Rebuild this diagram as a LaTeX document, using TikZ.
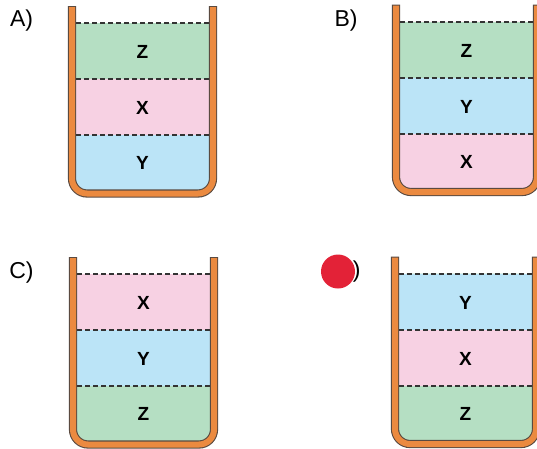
\documentclass[tikz,border=0pt]{standalone}
\usepackage{fontspec}
\setmainfont{Liberation Sans}
\definecolor{lgreen}{HTML}{B5DFC3}
\definecolor{lpink}{HTML}{F7D1E3}
\definecolor{lblue}{HTML}{BBE4F7}
\definecolor{worange}{HTML}{EB8A40}
\definecolor{wedge}{HTML}{5A4A40}
\definecolor{dotred}{HTML}{E32237}
\tikzset{
  wallout/.style={draw=wedge,line width=8.2pt,rounded corners=15pt},
  wallin/.style={draw=worange,line width=6pt,rounded corners=15pt},
  level/.style={draw=black!80,dashed,dash pattern=on 5pt off 3pt,line width=2pt},
  liq/.style={font=\fontsize{19}{19}\selectfont\bfseries,inner sep=0pt},
  optlabel/.style={font=\fontsize{23}{23}\selectfont,inner sep=0pt}
}
% #1 name, #2 shift x, #3 shift y, #4 top colour, #5 mid colour, #6 bottom colour, #7 #8 #9 labels
\newcommand\beakerdraw[9]{%
  \begin{scope}[shift={(#2,#3)}]
    \fill[#6,rounded corners=14pt] (72,23) -- (72,193.5) -- (213,193.5) -- (213,23) -- cycle;
    \fill[#5] (72,23) rectangle (213,135);
    \fill[#4] (72,23) rectangle (213,79);
    \draw[level] (76,23) -- (209,23);
    \draw[level] (76,79) -- (209,79);
    \draw[level] (76,135) -- (209,135);
    \draw[wallout] (72,6) -- (72,193.5) -- (213,193.5) -- (213,6);
    \draw[wallin] (72,7) -- (72,193.5) -- (213,193.5) -- (213,7);
    \node[liq] (#1top) at (142.5,52) {#7};
    \node[liq] (#1mid) at (142.5,108) {#8};
    \node[liq] (#1bot) at (142.5,163) {#9};
  \end{scope}}
\begin{document}
\begin{tikzpicture}[x=1pt,y=-1pt]
\useasboundingbox (0,0) rectangle (537,448);
\clip (0,0) rectangle (537,448);
\node[optlabel] (la) at (21.5,21) {A)};
\node[optlabel] (lb) at (346,21) {B)};
\node[optlabel] (lc) at (21.5,273) {C)};
\node[optlabel] (ld) at (348.5,272) {D)};
\beakerdraw{a}{0}{0}{lgreen}{lpink}{lblue}{Z}{X}{Y}
\beakerdraw{b}{324}{-1.5}{lgreen}{lblue}{lpink}{Z}{Y}{X}
\beakerdraw{c}{1}{251}{lpink}{lblue}{lgreen}{X}{Y}{Z}
\beakerdraw{d}{323}{250.5}{lblue}{lpink}{lgreen}{Y}{X}{Z}
\fill[dotred] (338,271.5) circle (17);
\end{tikzpicture}
\end{document}
